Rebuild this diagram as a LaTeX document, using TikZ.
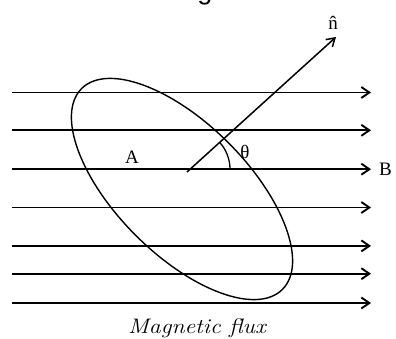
\documentclass[tikz,border=0pt]{standalone}
\usepackage{amsmath,amssymb}
\usepackage{fontspec}
\newfontfamily\headfont{Liberation Sans}
\newfontfamily\lblfont{Liberation Serif}
\usetikzlibrary{arrows.meta,positioning,calc}

\begin{document}
\begin{tikzpicture}[x=1pt, y=1pt,
    field/.style={-{Straight Barb[length=8pt,width=11pt]}, line width=1.9pt},
    vec/.style={-{Straight Barb[length=8pt,width=10pt]}, line width=1.5pt},
    lbl/.style={inner sep=0pt, font=\fontsize{19}{22}\lblfont}
]
\useasboundingbox (0,0) rectangle (396,338);

% cut-off heading above the figure
\node[anchor=base, inner sep=0pt, font=\fontsize{27}{30}\headfont] (head) at (205,338) {g};

% field lines
\foreach \y [count=\i] in {245.5,207.7,168.8,130.5,92.1,64.3,35} {
    \coordinate (s\i) at (12,\y);
    \coordinate (e\i) at (371,\y);
    \draw[field] (s\i) -- (e\i);
}

% the loop
\coordinate (ctr) at (182,149);
\draw[line width=1.4pt, rotate around={-45:(ctr)}] (ctr) ellipse[x radius=142, y radius=65.5];

% normal
\coordinate (o) at (187,166);
\coordinate (ntip) at (336,301);
\coordinate (c) at (190,168.8);
\draw[vec] (o) -- (ntip);
\draw[line width=1.3pt] ($(c)+(40,0)$) arc[start angle=0, end angle=42, radius=40];

\node[lbl] (nlab) at (333,315) {\^{n}};
\node[lbl] (th) at (245,186) {θ};
\node[lbl] (A) at (132,181) {A};
\node[lbl, right=8pt of e3] (B) {B};

\node[anchor=base, inner sep=0pt, font=\fontsize{21}{24}\selectfont\itshape, xscale=1.13, transform shape] (cap) at (197,5) {Magnetic flux};
\end{tikzpicture}
\end{document}
